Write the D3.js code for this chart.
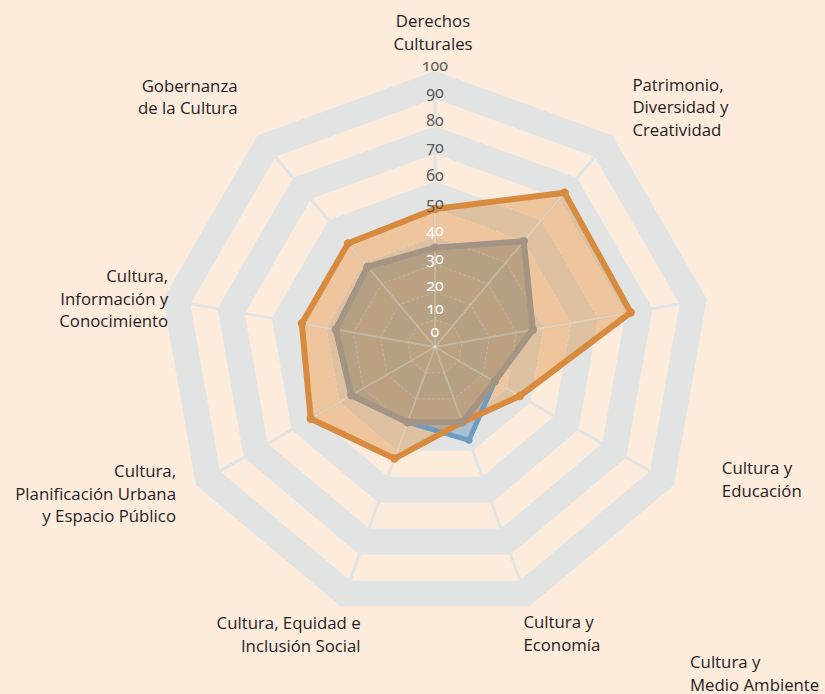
<!DOCTYPE html>
<html>
<head>
<meta charset="utf-8">
<script src="https://cdn.jsdelivr.net/npm/d3@7/dist/d3.min.js"></script>
<style>
  html, body { margin: 0; padding: 0; background: #fdebdc; }
  svg { display: block; }
</style>
</head>
<body>
<div id="chart"></div>
<script>
"use strict";

// axis categories, clockwise from the top
const categories = [
  "Derechos\nCulturales",
  "Patrimonio,\nDiversidad y\nCreatividad",
  "Cultura y\nEducación",
  "Cultura y\nMedio Ambiente",
  "Cultura y\nEconomía",
  "Cultura, Equidad e\nInclusión Social",
  "Cultura,\nPlanificación Urbana\ny Espacio Público",
  "Cultura,\nInformación y\nConocimiento",
  "Gobernanza\nde la Cultura",
];

const valuesOrange = [50, 73, 72, 35.5, 29, 43, 52, 49, 49];
const valuesGray = [36, 50, 36, 25, 29, 29, 35, 36.5, 38];
const valuesBlue = [36, 50, 36, 25, 36, 29, 35, 36.5, 38];

const tickLabels = [0, 10, 20, 30, 40, 50, 60, 70, 80, 90, 100];

// label placement relative to the outer vertex of each axis
const labelLayout = [
  { dx: -2, dy: -44, anchor: "middle" },
  { dx: 20, dy: -45, anchor: "start" },
  { dx: 15, dy: 175, anchor: "start" },
  { dx: 16, dy: 183, anchor: "start" },
  { dx: -6, dy: 22, anchor: "start" },
  { dx: 20, dy: 23, anchor: "end" },
  { dx: -20, dy: -8, anchor: "end" },
  { dx: 5, dy: -17, anchor: "end" },
  { dx: -20, dy: -44, anchor: "end" },
];

const COLORS = {
  bg: "#fdebdc",
  band: "#e2e4e3",
  orange: "#d88b3e",
  gray: "#a39484",
  grayFill: "#b08c62",
  blue: "#6e9bc0",
};

const width = 825;
const height = 694;
const cx = 435;
const cy = 347;
const R = 276;

const svg = d3
  .select("#chart")
  .append("svg")
  .attr("width", width)
  .attr("height", height)
  .attr("viewBox", `0 0 ${width} ${height}`);

svg.append("rect").attr("width", width).attr("height", height).attr("fill", COLORS.bg);

const r = d3.scaleLinear().domain([0, 100]).range([0, R]);
const angle = d3.scaleLinear().domain([0, categories.length]).range([0, 2 * Math.PI]);

function pt(i, v) {
  const a = angle(i);
  return [cx + r(v) * Math.sin(a), cy - r(v) * Math.cos(a)];
}

const closed = d3.line().curve(d3.curveLinearClosed);
const ring = (v) => closed(categories.map((_, i) => pt(i, v)));
const shape = (vals) => closed(vals.map((v, i) => pt(i, v)));

// alternating bands
const levels = tickLabels.filter((t) => t > 0).reverse();
svg
  .append("g")
  .selectAll("path")
  .data(levels)
  .join("path")
  .attr("d", (L) => ring(L))
  .attr("fill", (L) => ((L / 10) % 2 === 0 ? COLORS.band : COLORS.bg));

// spokes
svg
  .append("g")
  .selectAll("line")
  .data(categories)
  .join("line")
  .attr("x1", cx)
  .attr("y1", cy)
  .attr("x2", (_, i) => pt(i, 100)[0])
  .attr("y2", (_, i) => pt(i, 100)[1])
  .attr("stroke", COLORS.band)
  .attr("stroke-width", 3);

// fills
const series = [
  { vals: valuesBlue, color: COLORS.blue, fill: COLORS.blue, op: 0.5, w: 5 },
  { vals: valuesOrange, color: COLORS.orange, fill: COLORS.orange, op: 0.4, w: 6 },
  { vals: valuesGray, color: COLORS.gray, fill: COLORS.grayFill, op: 0.35, w: 6 },
];

svg
  .append("g")
  .selectAll("path")
  .data(series)
  .join("path")
  .attr("d", (s) => shape(s.vals))
  .attr("fill", (s) => s.fill)
  .attr("fill-opacity", (s) => s.op);

// faint grid over the filled area
svg
  .append("clipPath")
  .attr("id", "fillClip")
  .append("path")
  .attr("d", shape(valuesOrange));

const overlay = svg.append("g").attr("clip-path", "url(#fillClip)");
overlay
  .selectAll("path")
  .data(levels)
  .join("path")
  .attr("d", (L) => ring(L))
  .attr("fill", "none")
  .attr("stroke", "#ffffff")
  .attr("stroke-opacity", 0.2)
  .attr("stroke-width", 1)
  .attr("stroke-dasharray", "3,2");
overlay
  .selectAll("line")
  .data(categories)
  .join("line")
  .attr("x1", cx)
  .attr("y1", cy)
  .attr("x2", (_, i) => pt(i, 100)[0])
  .attr("y2", (_, i) => pt(i, 100)[1])
  .attr("stroke", "#ffffff")
  .attr("stroke-opacity", 0.22)
  .attr("stroke-width", 2);

// lines and markers
series.forEach((s) => {
  const g = svg.append("g");
  g.append("path")
    .attr("d", shape(s.vals))
    .attr("fill", "none")
    .attr("stroke", s.color)
    .attr("stroke-width", s.w)
    .attr("stroke-linejoin", "round");
  g.selectAll("circle")
    .data(s.vals)
    .join("circle")
    .attr("cx", (v, i) => pt(i, v)[0])
    .attr("cy", (v, i) => pt(i, v)[1])
    .attr("r", s.w * 0.7)
    .attr("fill", s.color);
});

// value axis labels
svg
  .append("g")
  .selectAll("text")
  .data(tickLabels)
  .join("text")
  .attr("x", cx)
  .attr("y", (t) => cy - r(t) - 6 - Math.max(0, 20 - t) * 0.5)
  .attr("dy", "0.35em")
  .attr("text-anchor", "middle")
  .attr("font-family", "'Noto Sans', 'Open Sans', sans-serif")
  .attr("font-size", 16)
  .style("font-variant-numeric", "oldstyle-nums")
  .attr("fill", (t) => (t < 50 ? "#ffffff" : "#5a5a5a"))
  .text((t) => t);

// category labels
const labels = svg
  .append("g")
  .attr("font-family", "'Open Sans', 'Noto Sans', sans-serif")
  .attr("font-size", 16.8)
  .attr("fill", "#1f1f1f")
  .selectAll("text")
  .data(categories)
  .join("text")
  .attr("text-anchor", (_, i) => labelLayout[i].anchor)
  .attr("transform", (_, i) => {
    const [x, y] = pt(i, 100);
    return `translate(${x + labelLayout[i].dx},${y + labelLayout[i].dy})`;
  });

labels
  .selectAll("tspan")
  .data((d) => d.split("\n"))
  .join("tspan")
  .attr("x", 0)
  .attr("y", (_, j) => j * 22.5)
  .text((d) => d);
</script>
</body>
</html>
